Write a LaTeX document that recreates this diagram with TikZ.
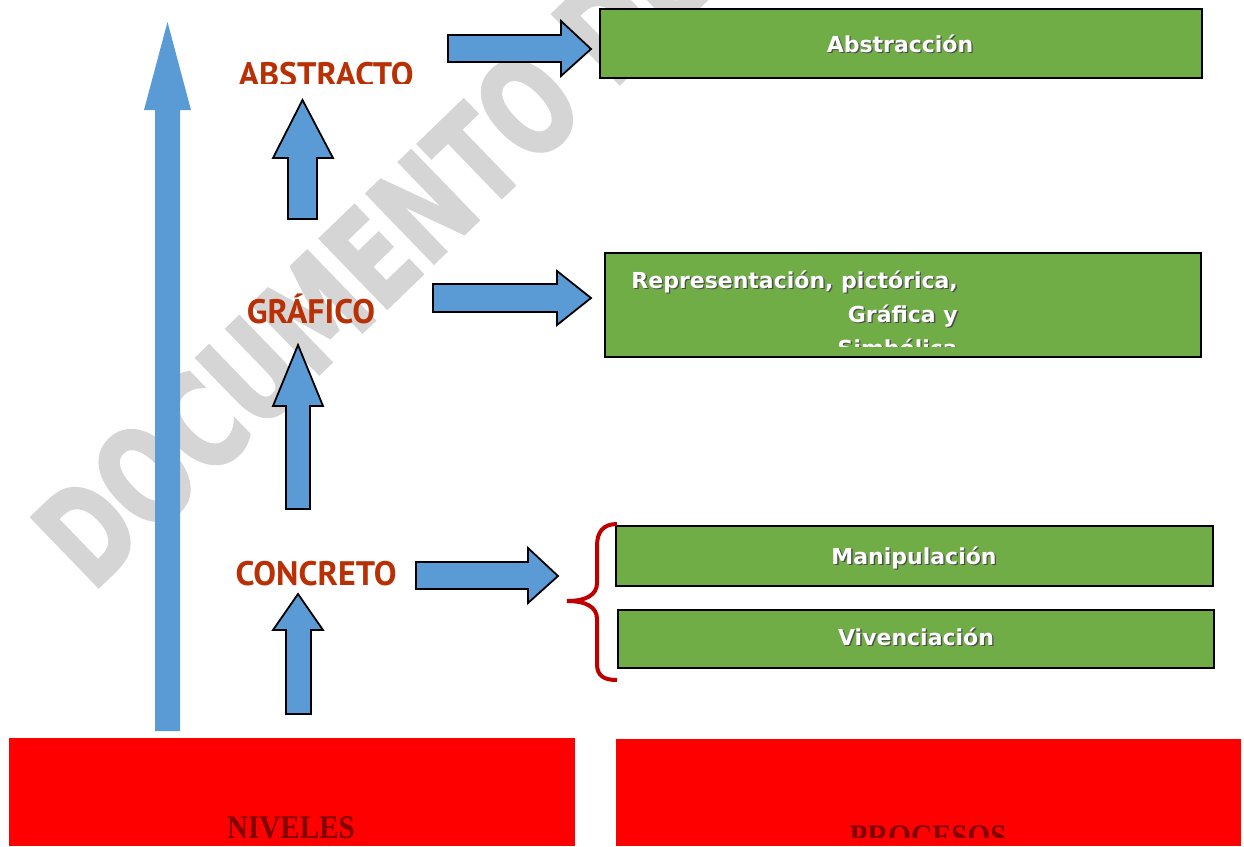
\documentclass[tikz,border=0pt]{standalone}
\usepackage{fontspec}
\setmainfont{DejaVu Sans}
\newfontfamily\nivelfont{PT Sans}
\newfontfamily\titulofont{Liberation Serif}
\newfontfamily\marcafont{DejaVu Sans Bold}[FakeBold=2.5]
\usetikzlibrary{positioning}

\definecolor{azul}{HTML}{5B9BD5}
\definecolor{verde}{HTML}{70AD47}
\definecolor{ladrillo}{RGB}{184,48,4}
\definecolor{rojollave}{HTML}{C00000}
\definecolor{marca}{RGB}{214,213,214}
\definecolor{rojo}{HTML}{FF0000}
\definecolor{granate}{RGB}{128,0,0}

% texto blanco con sombra
\newcommand{\sombra}[1]{\rlap{\hspace{1.3pt}\raisebox{-1.3pt}{\textcolor{black!70}{#1}}}#1}

\tikzset{
  flecha/.style={fill=azul, draw=black, line width=1.8pt, line join=miter},
  caja/.style={draw=black, line width=2.5pt, fill=verde, inner sep=0pt},
  nivel/.style={text=ladrillo, font=\nivelfont\bfseries\fontsize{34}{34}\selectfont, inner sep=0pt, anchor=base},
  proceso/.style={text=white, font=\bfseries\fontsize{22}{34}\selectfont, inner sep=0pt, anchor=base},
  titulo/.style={text=granate, font=\titulofont\bfseries\fontsize{30}{30}\selectfont, inner sep=0pt, anchor=base},
}

\begin{document}
\begin{tikzpicture}[x=1pt, y=-1pt]
	\useasboundingbox (0, 0) rectangle (1244, 846);
	\clip (0, 0) rectangle (1244, 846);
	
	% marca de agua
	\node[anchor=base west, rotate=44, inner sep=0pt, text=marca, font=\marcafont\fontsize{132}{132}\selectfont] (marcaagua) at (92, 593) {\scalebox{0.72}[1]{DOCUMENTO DE TRABAJO}};
	
	% flecha larga
	\fill[azul] (155, 731) -- (155, 110) -- (144, 110) -- (167.5, 22) -- (191, 110) -- (180, 110) -- (180, 731) -- cycle;
	
	% flechas hacia arriba
	\draw[flecha] (288, 219) -- (288, 158) -- (273, 158) -- (302.5, 100) -- (333, 158) -- (317, 158) -- (317, 219) -- cycle;
	\draw[flecha] (286, 509) -- (286, 406) -- (273, 406) -- (298, 345) -- (323, 406) -- (310, 406) -- (310, 509) -- cycle;
	\draw[flecha] (286, 714) -- (286, 630) -- (273, 630) -- (298, 594) -- (323, 630) -- (311, 630) -- (311, 714) -- cycle;
	
	% flechas hacia la derecha
	\draw[flecha] (448, 35) -- (561, 35) -- (561, 21) -- (591, 49) -- (561, 76) -- (561, 62) -- (448, 62) -- cycle;
	\draw[flecha] (433, 284) -- (557, 284) -- (557, 271) -- (591, 298) -- (557, 325) -- (557, 312) -- (433, 312) -- cycle;
	\draw[flecha] (416, 562) -- (528, 562) -- (528, 548) -- (558, 576) -- (528, 603) -- (528, 589) -- (416, 589) -- cycle;
	
	% niveles
	\begin{scope}
		\clip (200, 40) rectangle (450, 83.5);
		\node[nivel] (abstracto) at (326, 86) {ABSTRACTO};
	\end{scope}
	\node[nivel] (grafico) at (311, 323) {GRÁFICO};
	\node[nivel] (concreto) at (316, 585) {CONCRETO};
	
	% procesos
	\node[caja, minimum width=602pt, minimum height=69pt] (abstraccion) at (901, 43.5) {};
	\node[caja, minimum width=596pt, minimum height=104pt] (representacion) at (903, 305) {};
	\node[caja, minimum width=597pt, minimum height=60pt] (manipulacion) at (914.5, 556) {};
	\node[caja, minimum width=596pt, minimum height=58pt] (vivenciacion) at (916, 639) {};
	
	\node[proceso] (txtabs) at (900, 52) {\sombra{Abstracción}};
	\node[proceso] (txtman) at (914, 564) {\sombra{Manipulación}};
	\node[proceso] (txtviv) at (916, 645) {\sombra{Vivenciación}};
	\begin{scope}
		\clip (605, 253) rectangle (1201, 346);
		\node[proceso, anchor=base east, align=right, text=black!70] (txtrepsombra) at (959.3, 357.3) {Representación, pictórica,\\Gráfica y\\Simbólica};
		\node[proceso, anchor=base east, align=right] (txtrep) at (958, 356) {Representación, pictórica,\\Gráfica y\\Simbólica};
	\end{scope}
	
	% llave
	\draw[rojollave, line width=4pt] (617, 524) .. controls (603, 524) and (597, 532) .. (597, 546) -- (597, 583) .. controls (597, 595) and (586, 601) .. (567, 601) .. controls (586, 601) and (597, 607) .. (597, 619) -- (597, 664) .. controls (597, 676) and (604, 680) .. (617, 680);
	
	% cajas rojas
	\node[fill=rojo, inner sep=0pt, minimum width=566pt, minimum height=108pt] (cajaniveles) at (292, 792) {};
	\node[fill=rojo, inner sep=0pt, minimum width=625pt, minimum height=107pt] (cajaprocesos) at (928.5, 792.5) {};
	\node[titulo] (niveles) at (291, 838) {\scalebox{0.97}[1.1]{NIVELES}};
	\begin{scope}
		\clip (616, 739) rectangle (1241, 837);
		\node[titulo] (procesos) at (928, 847) {\scalebox{0.97}[1.1]{PROCESOS}};
	\end{scope}
\end{tikzpicture}
\end{document}
